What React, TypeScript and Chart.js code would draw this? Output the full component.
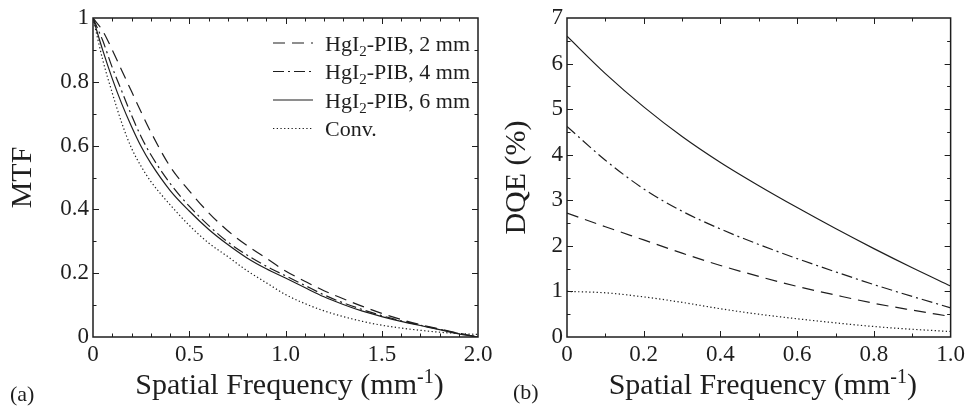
import React, { useEffect, useRef } from "react";
import { Chart, registerables } from "chart.js";

Chart.register(...registerables);

// ---------- data ----------
const seriesLabels = ["HgI₂-PIB, 2 mm", "HgI₂-PIB, 4 mm", "HgI₂-PIB, 6 mm", "Conv."];

const mtfFreq = [0, 0.05, 0.1, 0.15, 0.2, 0.25, 0.3, 0.4, 0.5, 0.6, 0.7, 0.8, 0.9, 1.0, 1.1, 1.2, 1.3, 1.4, 1.5, 1.6, 1.7, 1.8, 1.9, 2.0];
const mtf2mm = [1.0, 0.96, 0.9, 0.835, 0.77, 0.705, 0.643, 0.535, 0.458, 0.39, 0.333, 0.287, 0.247, 0.207, 0.175, 0.145, 0.12, 0.096, 0.074, 0.055, 0.039, 0.025, 0.012, 0.0];
const mtf4mm = [1.0, 0.93, 0.845, 0.77, 0.695, 0.628, 0.572, 0.482, 0.41, 0.35, 0.298, 0.257, 0.222, 0.192, 0.162, 0.132, 0.107, 0.086, 0.067, 0.051, 0.037, 0.024, 0.011, 0.0];
const mtf6mm = [1.0, 0.9, 0.81, 0.73, 0.66, 0.597, 0.545, 0.46, 0.395, 0.338, 0.29, 0.248, 0.214, 0.185, 0.155, 0.126, 0.102, 0.081, 0.064, 0.049, 0.036, 0.023, 0.01, 0.0];
const mtfConv = [1.0, 0.87, 0.765, 0.67, 0.592, 0.535, 0.488, 0.415, 0.35, 0.295, 0.252, 0.208, 0.17, 0.133, 0.105, 0.082, 0.064, 0.049, 0.037, 0.028, 0.021, 0.015, 0.011, 0.008];

const dqeFreq = [0, 0.1, 0.2, 0.3, 0.4, 0.5, 0.6, 0.7, 0.8, 0.9, 1.0];
const dqe2mm = [2.72, 2.42, 2.13, 1.84, 1.57, 1.33, 1.11, 0.92, 0.74, 0.59, 0.45];
const dqe4mm = [4.62, 3.88, 3.25, 2.76, 2.37, 2.03, 1.72, 1.43, 1.15, 0.89, 0.64];
const dqe6mm = [6.6, 5.78, 5.05, 4.4, 3.83, 3.32, 2.84, 2.38, 1.94, 1.52, 1.12];
const dqeConv = [1.0, 0.97, 0.88, 0.76, 0.62, 0.5, 0.4, 0.31, 0.23, 0.17, 0.12];

const mtfXTicks = ["0", "0.5", "1.0", "1.5", "2.0"];
const mtfYTicks = ["0", "0.2", "0.4", "0.6", "0.8", "1"];
const dqeXTicks = ["0", "0.2", "0.4", "0.6", "0.8", "1.0"];
const dqeYTicks = ["0", "1", "2", "3", "4", "5", "6", "7"];

// ---------- style ----------
const INK = "#1e1e1e";
const SERIF = "'Liberation Serif', 'Times New Roman', Times, serif";
const DASHES: number[][] = [[12, 7], [11, 4, 2, 4], [], [1.3, 2.4]];

type Part = { t: string; sub?: boolean; sup?: boolean };
const SUBS: Record<string, string> = { "₀": "0", "₁": "1", "₂": "2", "₃": "3", "₄": "4", "₅": "5", "₆": "6", "₇": "7", "₈": "8", "₉": "9" };

function parseLabel(s: string): Part[] {
  const out: Part[] = [];
  let cur = "";
  for (const ch of s) {
    if (SUBS[ch]) {
      if (cur) out.push({ t: cur });
      cur = "";
      out.push({ t: SUBS[ch], sub: true });
    } else cur += ch;
  }
  if (cur) out.push({ t: cur });
  return out;
}

function drawRich(ctx: CanvasRenderingContext2D, parts: Part[], x: number, y: number, size: number, align: "left" | "center") {
  const small = Math.round(size * 0.66);
  const widths = parts.map((p) => {
    ctx.font = `${p.sub || p.sup ? small : size}px ${SERIF}`;
    return ctx.measureText(p.t).width;
  });
  const total = widths.reduce((a, b) => a + b, 0);
  let cx = align === "center" ? x - total / 2 : x;
  ctx.textAlign = "left";
  ctx.textBaseline = "alphabetic";
  parts.forEach((p, i) => {
    ctx.font = `${p.sub || p.sup ? small : size}px ${SERIF}`;
    const dy = p.sub ? size * 0.24 : p.sup ? -size * 0.36 : 0;
    ctx.fillText(p.t, cx, y + dy);
    cx += widths[i];
  });
}

type PanelOpts = {
  xStep: number; xCount: number; xMajorEvery: number;
  yStep: number; yCount: number; yMajorEvery: number;
  panelLabel: string; panelLabelX: number; panelLabelY: number;
  legend: boolean;
};

function panelPlugin(o: PanelOpts) {
  return {
    id: "panelDecor",
    afterDraw(chart: any) {
      const { ctx, chartArea } = chart;
      const { left, right, top, bottom } = chartArea;
      const xs = chart.scales.x;
      const ys = chart.scales.y;
      ctx.save();
      ctx.strokeStyle = INK;
      ctx.fillStyle = INK;
      ctx.setLineDash([]);
      // inward ticks on all four sides
      ctx.lineWidth = 1;
      ctx.beginPath();
      for (let i = 1; i < o.xCount; i++) {
        const px = Math.round(xs.getPixelForValue(i * o.xStep)) + 0.5;
        const len = i % o.xMajorEvery === 0 ? 6 : 3.5;
        ctx.moveTo(px, bottom); ctx.lineTo(px, bottom - len);
        ctx.moveTo(px, top); ctx.lineTo(px, top + len);
      }
      for (let i = 1; i < o.yCount; i++) {
        const py = Math.round(ys.getPixelForValue(i * o.yStep)) + 0.5;
        const len = i % o.yMajorEvery === 0 ? 6 : 3.5;
        ctx.moveTo(left, py); ctx.lineTo(left + len, py);
        ctx.moveTo(right, py); ctx.lineTo(right - len, py);
      }
      ctx.stroke();
      // frame
      ctx.lineWidth = 1.5;
      ctx.strokeRect(left, top, right - left, bottom - top);
      // x-axis title
      drawRich(ctx, [{ t: "Spatial Frequency (mm" }, { t: "-1", sup: true }, { t: ")" }], (left + right) / 2 + 4, 393.5, 30, "center");
      // panel label
      ctx.font = `22px ${SERIF}`;
      ctx.textAlign = "left";
      ctx.textBaseline = "alphabetic";
      ctx.fillText(o.panelLabel, o.panelLabelX, o.panelLabelY);
      // legend
      if (o.legend) {
        chart.data.datasets.forEach((ds: any, i: number) => {
          const y = top + 25 + i * 28.5;
          ctx.lineWidth = 1.2;
          ctx.setLineDash(ds.borderDash || []);
          ctx.beginPath();
          ctx.moveTo(left + 180, y);
          ctx.lineTo(left + 220, y);
          ctx.stroke();
          ctx.setLineDash([]);
          drawRich(ctx, parseLabel(ds.label), left + 232, y + 7.5, 22, "left");
        });
      }
      ctx.restore();
    },
  };
}

function makeDatasets(freq: number[], series: number[][]) {
  return series.map((vals, i) => ({
    label: seriesLabels[i],
    data: freq.map((f, j) => ({ x: f, y: vals[j] })),
    borderColor: INK,
    borderWidth: 1.2,
    borderDash: DASHES[i],
    pointRadius: 0,
    fill: false,
    cubicInterpolationMode: "monotone" as const,
  }));
}

const tickFont = { family: SERIF, size: 23 };

function buildConfig(kind: "mtf" | "dqe"): any {
  const isMtf = kind === "mtf";
  const datasets = isMtf
    ? makeDatasets(mtfFreq, [mtf2mm, mtf4mm, mtf6mm, mtfConv])
    : makeDatasets(dqeFreq, [dqe2mm, dqe4mm, dqe6mm, dqeConv]);
  const xLabels = isMtf ? mtfXTicks : dqeXTicks;
  const yLabels = isMtf ? mtfYTicks : dqeYTicks;
  return {
    type: "line",
    data: { datasets },
    options: {
      responsive: false,
      animation: false,
      events: [],
      layout: { padding: { left: 0, top: 18, right: isMtf ? 22 : 16, bottom: 0 }, autoPadding: false },
      plugins: { legend: { display: false }, tooltip: { enabled: false } },
      scales: {
        x: {
          type: "linear",
          min: 0,
          max: isMtf ? 2 : 1,
          grid: { display: false, drawTicks: false },
          border: { display: false },
          ticks: {
            stepSize: isMtf ? 0.5 : 0.2,
            padding: 4,
            color: INK,
            font: tickFont,
            maxRotation: 0,
            autoSkip: false,
            callback: (_v: any, i: number) => xLabels[i],
          },
          afterFit: (s: any) => { s.height = 70; },
        },
        y: {
          type: "linear",
          min: 0,
          max: isMtf ? 1 : 7,
          grid: { display: false, drawTicks: false },
          border: { display: false },
          ticks: {
            stepSize: isMtf ? 0.2 : 1,
            padding: 4,
            color: INK,
            font: tickFont,
            autoSkip: false,
            callback: (_v: any, i: number) => yLabels[i],
          },
          title: {
            display: true,
            text: isMtf ? "MTF" : "DQE (%)",
            color: INK,
            font: { family: SERIF, size: 30 },
            padding: { top: isMtf ? 5.5 : 19.5, bottom: 0 },
          },
          afterFit: (s: any) => { s.width = isMtf ? 93 : 87; },
        },
      },
    },
    plugins: [
      panelPlugin(
        isMtf
          ? { xStep: 0.1, xCount: 20, xMajorEvery: 5, yStep: 0.1, yCount: 10, yMajorEvery: 2, panelLabel: "(a)", panelLabelX: 10, panelLabelY: 401, legend: true }
          : { xStep: 0.1, xCount: 10, xMajorEvery: 2, yStep: 0.5, yCount: 14, yMajorEvery: 2, panelLabel: "(b)", panelLabelX: 33, panelLabelY: 399, legend: false }
      ),
    ],
  };
}

function Panel({ kind, x, width }: { kind: "mtf" | "dqe"; x: number; width: number }) {
  const ref = useRef<HTMLCanvasElement | null>(null);
  useEffect(() => {
    if (!ref.current) return;
    const chart = new Chart(ref.current, buildConfig(kind));
    return () => chart.destroy();
  }, [kind]);
  return (
    <canvas
      ref={ref}
      width={width}
      height={407}
      style={{ position: "absolute", left: x, top: 0, width, height: 407 }}
    />
  );
}

export default function App() {
  return (
    <div style={{ position: "fixed", left: 0, top: 0, width: 969, height: 407, background: "#fff", overflow: "hidden" }}>
      <Panel kind="mtf" x={0} width={500} />
      <Panel kind="dqe" x={480} width={489} />
    </div>
  );
}
